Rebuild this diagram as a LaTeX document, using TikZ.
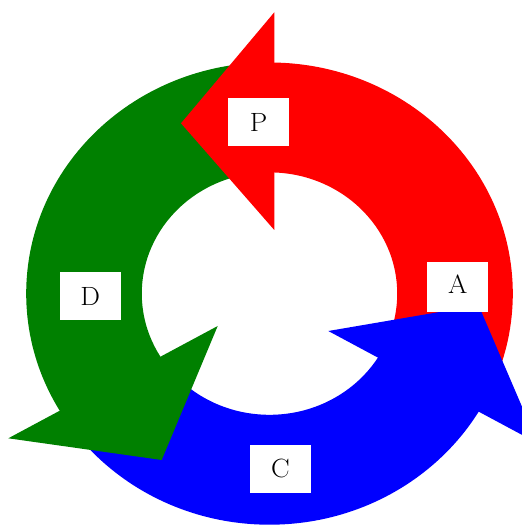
\documentclass[tikz,border=0pt]{standalone}
\usepackage{fontspec}
\begin{document}
\begin{tikzpicture}[x=1pt,y=1pt,
  lbl/.style={fill=white, xscale=1.054, transform shape, minimum width=57.9pt,
              minimum height=47.5pt, inner sep=0pt,
              font=\fontsize{26.4}{30}\selectfont},
  outer/.style={x radius=243.3pt, y radius=231.1pt},
  inner/.style={x radius=127.7pt, y radius=121.2pt}]
\useasboundingbox (0,0) rectangle (522,525);
\coordinate (O) at (269.5,231.4);
% red head
\coordinate (Ro) at (274.3,512.7);
\coordinate (Ri) at (274.3,295);
\coordinate (Rt) at (181,401.7);
% green head
\coordinate (Gi) at (217.7,199);
\coordinate (Go) at (8.3,86.7);
\coordinate (Gt) at (161.7,65);
% blue head
\coordinate (Bi) at (328.3,194);
\coordinate (Bo) at (537.7,81.7);
\coordinate (Bt) at (478.6,219.7);
% seam lines, slightly inside each head
\coordinate (Rsi) at (272.8,295);
\coordinate (Rsf) at (272.8,700);
\coordinate (Gsi) at (218.5,197.7);
\coordinate (Gso) at (9.1,85.4);
\coordinate (Bsi) at (329,195.3);
\coordinate (Bso) at (538.4,83);
% red body
\begin{scope}
\clip (Rsi) -- (Rsf) -- (800,700) -- (800,-200) -- (Bso) -- (Bsi) -- cycle;
\fill[red, even odd rule] (O) ellipse [outer] (O) ellipse [inner];
\end{scope}
% green body
\begin{scope}
\clip (Rsi) -- (Rsf) -- (-300,700) -- (-300,-100) -- (Gso) -- (Gsi) -- cycle;
\fill[green!50!black, even odd rule] (O) ellipse [outer] (O) ellipse [inner];
\end{scope}
% blue body
\begin{scope}
\clip (Gsi) -- (Gso) -- (-300,-100) -- (-300,-400) -- (800,-400) -- (800,-200) -- (Bso) -- (Bsi) -- cycle;
\fill[blue, even odd rule] (O) ellipse [outer] (O) ellipse [inner];
\end{scope}
% heads
\fill[red] (Ro) -- (Rt) -- (Ri) -- cycle;
\fill[green!50!black] (Go) -- (Gt) -- (Gi) -- cycle;
\fill[blue] (Bo) -- (Bt) -- (Bi) -- cycle;
% labels
\node[lbl] (p) at (258.5,403) {P};
\node[lbl] (d) at (90.3,229) {D};
\node[lbl, minimum height=50pt, text depth=4.4pt] (a) at (457.7,238.3) {A};
\node[lbl] (c) at (280.5,56.2) {C};
\end{tikzpicture}
\end{document}
